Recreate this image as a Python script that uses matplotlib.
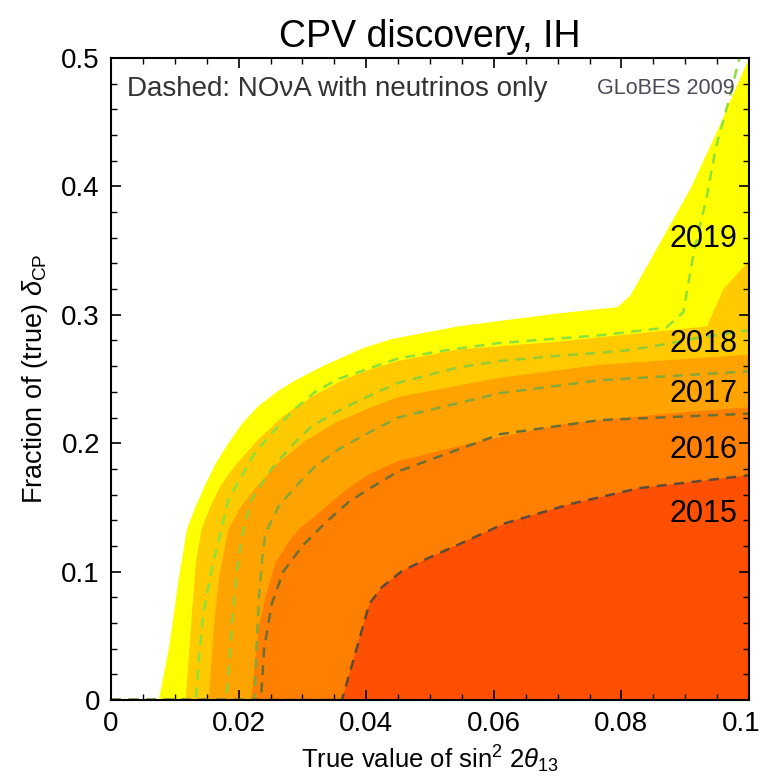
import matplotlib
matplotlib.use("Agg")
import matplotlib.pyplot as plt
import matplotlib.transforms as mtransforms

plt.rcParams['font.family'] = ['Liberation Sans', 'DejaVu Sans']
plt.rcParams['mathtext.fontset'] = 'custom'
plt.rcParams['mathtext.rm'] = 'Liberation Sans'
plt.rcParams['mathtext.it'] = 'Liberation Sans:italic'

# region boundaries (upper edge of each shaded area)
years = ["2019", "2018", "2017", "2016", "2015"]
colors = ["#FFFF00", "#FFCB00", "#FFA300", "#FF7F00", "#FF4F00"]

x_2019 = [0.0, 0.0075, 0.0091, 0.0106, 0.0119, 0.0132, 0.0148, 0.0165, 0.0184, 0.0205, 0.0231,
          0.026, 0.0289, 0.0336, 0.0395, 0.0439, 0.0544, 0.070, 0.0794, 0.0814, 0.0856, 0.0908,
          0.095, 0.1]
y_2019 = [0.0, 0.0, 0.041, 0.094, 0.133, 0.150, 0.168, 0.185, 0.200, 0.215, 0.229,
          0.240, 0.249, 0.261, 0.274, 0.281, 0.291, 0.301, 0.306, 0.315, 0.352, 0.398,
          0.443, 0.5]

x_2018 = [0.0, 0.0117, 0.0125, 0.0133, 0.0142, 0.0155, 0.0172, 0.0195, 0.0231, 0.0267, 0.0314,
          0.0367, 0.0403, 0.045, 0.0544, 0.070, 0.0856, 0.0934, 0.096, 0.1]
y_2018 = [0.0, 0.0, 0.055, 0.107, 0.133, 0.150, 0.167, 0.183, 0.203, 0.220, 0.236,
          0.250, 0.257, 0.264, 0.273, 0.279, 0.287, 0.291, 0.320, 0.342]

x_2017 = [0.0, 0.0153, 0.0161, 0.0169, 0.0184, 0.0203, 0.0226, 0.0263, 0.0305, 0.0352, 0.0403,
          0.045, 0.061, 0.0766, 0.1]
y_2017 = [0.0, 0.0, 0.055, 0.094, 0.133, 0.150, 0.165, 0.185, 0.202, 0.216, 0.227,
          0.236, 0.251, 0.261, 0.269]

x_2016 = [0.0, 0.022, 0.0231, 0.0242, 0.0258, 0.0278, 0.0295, 0.0336, 0.0367, 0.0405, 0.045,
          0.0555, 0.071, 0.087, 0.1]
y_2016 = [0.0, 0.0, 0.055, 0.080, 0.107, 0.123, 0.133, 0.150, 0.163, 0.176, 0.186,
          0.199, 0.215, 0.223, 0.228]

x_2015 = [0.0, 0.0362, 0.0385, 0.0405, 0.0425, 0.0455, 0.0495, 0.054, 0.0617, 0.0723, 0.0828, 0.1]
y_2015 = [0.0, 0.0, 0.040, 0.075, 0.088, 0.100, 0.110, 0.120, 0.1375, 0.153, 0.165, 0.175]

# dashed: NOvA with neutrinos only
dash_colors = ["#8ee03a", "#95cc35", "#86a83a", "#6b6f35", "#5c4a3a"]

xd_2019 = [0.0, 0.0133, 0.0138, 0.0145, 0.0158, 0.0173, 0.0184, 0.0226, 0.0258, 0.0289, 0.032,
           0.0356, 0.0392, 0.045, 0.0533, 0.0608, 0.0766, 0.087, 0.0897, 0.0914, 0.0933, 0.0948,
           0.097, 0.0985]
yd_2019 = [0.0, 0.0, 0.034, 0.068, 0.102, 0.133, 0.156, 0.193, 0.211, 0.227, 0.240,
           0.250, 0.256, 0.266, 0.273, 0.278, 0.284, 0.290, 0.302, 0.350, 0.390, 0.430,
           0.470, 0.5]

xd_2018 = [0.0, 0.0181, 0.0189, 0.0197, 0.0205, 0.022, 0.0252, 0.0283, 0.0314, 0.0352, 0.0392,
           0.045, 0.0544, 0.061, 0.070, 0.0805, 0.0856, 0.092, 0.1]
yd_2018 = [0.0, 0.0, 0.055, 0.100, 0.127, 0.156, 0.180, 0.198, 0.213, 0.224, 0.234,
           0.247, 0.259, 0.264, 0.268, 0.272, 0.276, 0.282, 0.288]

xd_2017 = [0.0, 0.0225, 0.0228, 0.0232, 0.0237, 0.0242, 0.0263, 0.0289, 0.032, 0.0356, 0.0392,
           0.045, 0.061, 0.0766, 0.1]
yd_2017 = [0.0, 0.0, 0.040, 0.080, 0.110, 0.130, 0.151, 0.166, 0.182, 0.195, 0.205,
           0.220, 0.239, 0.249, 0.256]

xd_2016 = [0.0, 0.0235, 0.024, 0.0252, 0.027, 0.030, 0.0336, 0.0372, 0.0403, 0.045, 0.0544,
           0.061, 0.0766, 0.1]
yd_2016 = [0.0, 0.0, 0.040, 0.075, 0.100, 0.120, 0.138, 0.154, 0.164, 0.178, 0.195,
           0.207, 0.218, 0.223]

xd_2015 = x_2015
yd_2015 = y_2015

# label positions (right aligned)
label_x = 0.0982
label_y = [0.359, 0.277, 0.238, 0.195, 0.1445]

regions = [(x_2019, y_2019), (x_2018, y_2018), (x_2017, y_2017), (x_2016, y_2016), (x_2015, y_2015)]
dashed = [(xd_2019, yd_2019), (xd_2018, yd_2018), (xd_2017, yd_2017), (xd_2016, yd_2016), (xd_2015, yd_2015)]

fig = plt.figure(figsize=(7.63, 7.79), dpi=100)
ax = fig.add_axes([111 / 763, 1 - 700 / 779, 638 / 763, 642 / 779])

for (xs, ys), c in zip(regions, colors):
    # close the polygon along the right edge and the bottom
    ax.fill(list(xs) + [0.1, 0.0], list(ys) + [0.0, 0.0], color=c, lw=0, zorder=1)

for (xs, ys), c in zip(dashed, dash_colors):
    ax.plot(xs, ys, color=c, lw=1.8, dashes=(4, 3), zorder=2)

for year, yy in zip(years, label_y):
    ax.text(label_x, yy, year, ha="right", va="center", fontsize=22, color="black", zorder=3)

ax.text(0.0025, 0.476, "Dashed: NO\u03bdA with neutrinos only", fontsize=20, color="#333333",
        ha="left", va="center", zorder=3)
ax.text(0.0978, 0.476, "GLoBES 2009", fontsize=15.5, color="#4a4a5a", ha="right", va="center", zorder=3)

ax.set_xlim(0, 0.1)
ax.set_ylim(0, 0.5)
ax.set_xticks([0, 0.02, 0.04, 0.06, 0.08, 0.1])
ax.set_xticklabels(["0", "0.02", "0.04", "0.06", "0.08", "0.1"])
ax.set_yticks([0, 0.1, 0.2, 0.3, 0.4, 0.5])
ax.set_yticklabels(["0", "0.1", "0.2", "0.3", "0.4", "0.5"])
ax.set_xticks([i * 0.005 for i in range(21)], minor=True)
ax.set_yticks([i * 0.02 for i in range(26)], minor=True)
ax.tick_params(which="both", direction="in", top=True, right=True, labelsize=20)
ax.tick_params(which="major", length=7, width=1.2, pad=8)
ax.tick_params(which="minor", length=4, width=1)
for s in ax.spines.values():
    s.set_linewidth(1.5)
    s.set_zorder(5)

# last x tick label sits against the figure edge; nudge it left a bit
last = ax.get_xticklabels()[-1]
last.set_transform(last.get_transform() + mtransforms.ScaledTranslation(-8 / 100, 0, fig.dpi_scale_trans))

ax.set_title("CPV discovery, IH", fontsize=27, pad=8)
ax.set_xlabel("True value of sin$^2$ 2$\\mathit{\\theta}_{13}$", fontsize=18.5, labelpad=5)
ax.set_ylabel("Fraction of (true) $\\mathit{\\delta}_{\\mathrm{CP}}$", fontsize=19.5, labelpad=8)

fig.savefig("out.png", dpi=100)
